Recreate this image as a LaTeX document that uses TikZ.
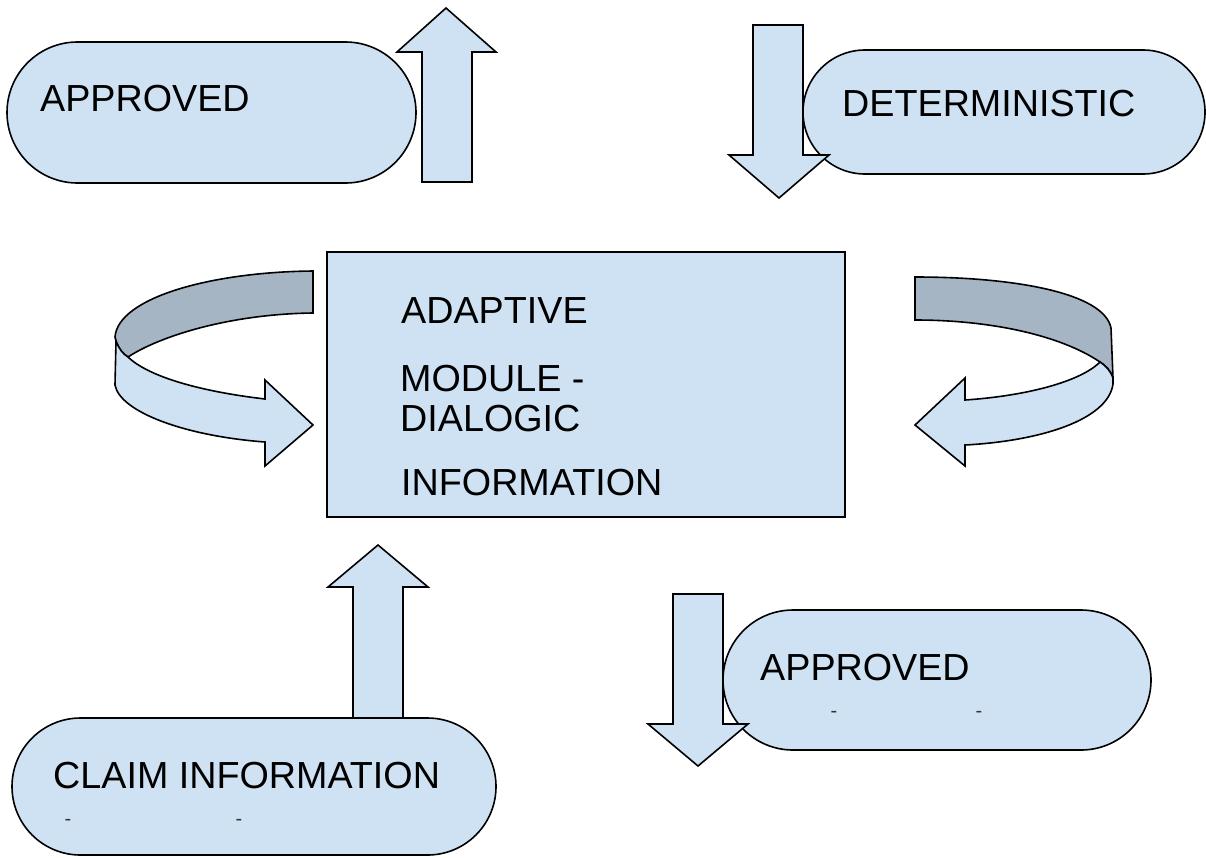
\documentclass[tikz,border=0pt]{standalone}
\usepackage{fontspec}
\setmainfont{Liberation Sans}
\usetikzlibrary{shapes.misc}
\definecolor{boxblue}{HTML}{CFE2F3}
\definecolor{bandgrey}{HTML}{A6B5C4}
\begin{document}
\begin{tikzpicture}[x=1pt,y=-1pt,
  outline/.style={draw=black,line width=1.6pt,line join=miter},
  pill/.style={outline,fill=boxblue,rounded rectangle,inner sep=0pt,outer sep=0pt},
  box/.style={outline,fill=boxblue,rectangle,inner sep=0pt,outer sep=0pt},
  label/.style={anchor=base west,inner sep=0pt,font=\fontsize{37.7}{44}\selectfont},
  tick/.style={inner sep=0pt,font=\fontsize{20}{20}\selectfont,text=black!80},
  blockarrow/.style={outline,fill=boxblue},
  back/.style={outline,fill=bandgrey}]
\useasboundingbox (0,0) rectangle (1206,857);

% rounded boxes
\node[pill,minimum width=409pt,minimum height=141pt] (approvedtop) at (211.5,112.5) {};
\node[pill,minimum width=402pt,minimum height=124pt] (determ) at (1004,112) {};
\node[pill,minimum width=428pt,minimum height=140pt] (approvedbot) at (937,680) {};
\node[pill,minimum width=484pt,minimum height=137pt] (claim) at (254,786.5) {};

% central module
\node[box,minimum width=518pt,minimum height=265pt] (module) at (586,384.5) {};

% labels
\node[label] (t1) at (40,111) {APPROVED};
\node[label] (t2) at (842,116) {DETERMINISTIC};
\node[label] (t3) at (401,323) {ADAPTIVE};
\node[label] (t4) at (400,391) {MODULE -};
\node[label] (t5) at (400,431) {DIALOGIC};
\node[label] (t6) at (401,495) {INFORMATION};
\node[label] (t7) at (760,680) {APPROVED};
\node[label] (t8) at (53,788) {CLAIM INFORMATION};

% small marks inside the lower boxes
\node[tick] (m1) at (834,714) {-};
\node[tick] (m2) at (979,714) {-};
\node[tick] (m3) at (68,822) {-};
\node[tick] (m4) at (239,822) {-};

% straight block arrows
\draw[blockarrow] (422,182) -- (422,52) -- (397,52) -- (446,8) -- (496,52) -- (472,52) -- (472,182) -- cycle;
\draw[blockarrow] (753,25) -- (753,155) -- (729,155) -- (779,198) -- (829,155) -- (803,155) -- (803,25) -- cycle;
\draw[blockarrow] (353,718) -- (353,587) -- (328,587) -- (378,545) -- (428,587) -- (403,587) -- (403,718) -- cycle;
\draw[blockarrow] (673,594) -- (673,724) -- (648,724) -- (698,766) -- (748,724) -- (723,724) -- (723,594) -- cycle;

% left circular arrow: back of the ribbon
\draw[back] (313,271) .. controls (210,272) and (118,298) .. (115,337)
  -- (116,341) .. controls (119,349) and (123,354) .. (128,357)
  .. controls (160,336) and (230,314) .. (313,313) -- cycle;
% left circular arrow: front of the ribbon with its head
\draw[blockarrow] (116,341) -- (115,385)
  .. controls (120,412) and (185,436) .. (265,442)
  -- (265,466) -- (313,425) -- (265,380) -- (265,399)
  .. controls (205,392) and (150,378) .. (128,357)
  .. controls (123,354) and (119,349) .. (116,341) -- cycle;

% right circular arrow: back of the ribbon
\draw[back] (915,277) .. controls (1015,277) and (1104,293) .. (1111,328)
  -- (1113,378) .. controls (1110,370) and (1106,366) .. (1100,362)
  .. controls (1060,335) and (990,320) .. (915,320) -- cycle;
% right circular arrow: front of the ribbon with its head
\draw[blockarrow] (1100,362) .. controls (1106,366) and (1110,370) .. (1113,378)
  -- (1113,384)
  .. controls (1108,420) and (1040,441) .. (965,445)
  -- (965,466) -- (915,425) -- (965,378) -- (965,400)
  .. controls (1025,396) and (1080,382) .. (1100,362) -- cycle;
\end{tikzpicture}
\end{document}
